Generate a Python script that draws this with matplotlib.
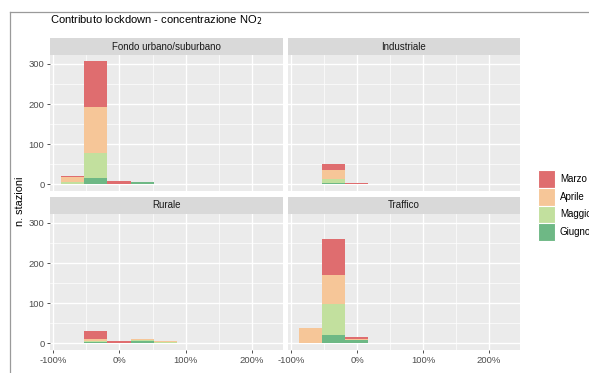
import numpy as np
import matplotlib
matplotlib.use("Agg")
import matplotlib.pyplot as plt
from matplotlib.patches import Rectangle
from matplotlib.lines import Line2D

plt.rcParams['font.family'] = ['Liberation Sans', 'DejaVu Sans']

# classi di variazione percentuale (estremo sinistro di ogni classe)
classi = [-88.5, -53.3, -18.1, 17.1, 52.3, 87.5]
larghezza = 35.2

mesi = ["Marzo", "Aprile", "Maggio", "Giugno"]
colori = ["#DF6D6F", "#F6C698", "#C2E09E", "#6EB885"]

# numero di stazioni per classe, per tipo di stazione e mese
fondo_marzo = [2, 113, 8, 0, 0, 0]
fondo_aprile = [11, 115, 1, 1, 0, 0]
fondo_maggio = [6, 62, 0, 1, 0, 0]
fondo_giugno = [1, 16, 0, 5, 0, 0]

ind_marzo = [0, 15, 4, 0, 0, 0]
ind_aprile = [1, 22, 0, 1, 0, 0]
ind_maggio = [0, 9, 0, 0, 0, 0]
ind_giugno = [0, 4, 0, 1, 0, 0]

rur_marzo = [0, 20, 4, 0, 0, 2]
rur_aprile = [2, 6, 2, 2, 2, 0]
rur_maggio = [0, 3, 0, 2, 3, 0]
rur_giugno = [0, 3, 0, 6, 1, 0]

traf_marzo = [1, 91, 5, 0, 0, 0]
traf_aprile = [36, 70, 3, 0, 0, 0]
traf_maggio = [2, 77, 0, 1, 0, 0]
traf_giugno = [0, 22, 8, 1, 0, 0]

pannelli = [
    ("Fondo urbano/suburbano", [fondo_marzo, fondo_aprile, fondo_maggio, fondo_giugno]),
    ("Industriale", [ind_marzo, ind_aprile, ind_maggio, ind_giugno]),
    ("Rurale", [rur_marzo, rur_aprile, rur_maggio, rur_giugno]),
    ("Traffico", [traf_marzo, traf_aprile, traf_maggio, traf_giugno]),
]

W, H = 589, 373
fig = plt.figure(figsize=(W / 100, H / 100), dpi=100)

def box(x0, y0, x1, y1):
    # rettangolo in pixel (origine in alto a sinistra) -> coordinate figura
    return [x0 / W, 1 - y1 / H, (x1 - x0) / W, (y1 - y0) / H]

colonne = [(50, 283), (288, 520)]
righe = [(38, 55, 191), (197, 214, 350)]

for k, (nome, serie) in enumerate(pannelli):
    r, c = divmod(k, 2)
    x0, x1 = colonne[c]
    ys, y0, y1 = righe[r]

    # striscia del titolo del pannello
    st = fig.add_axes(box(x0, ys, x1, y0))
    st.set_facecolor("#D9D9D9")
    st.set_xticks([]); st.set_yticks([])
    for s in st.spines.values():
        s.set_visible(False)
    st.text(0.5, 0.5, nome, ha="center", va="center", fontsize=7, color="#1A1A1A",
            transform=st.transAxes)

    ax = fig.add_axes(box(x0, y0, x1, y1))
    ax.set_facecolor("#EBEBEB")
    for s in ax.spines.values():
        s.set_visible(False)
    ax.set_xlim(-104.5, 246.7)
    ax.set_ylim(-16.5, 322)
    ax.set_xticks([-100, 0, 100, 200])
    ax.set_xticks([-50, 50, 150], minor=True)
    ax.set_yticks([0, 100, 200, 300])
    ax.set_yticks([50, 150, 250], minor=True)
    ax.grid(True, which="major", color="white", lw=1.0)
    ax.grid(True, which="minor", color="white", lw=0.5)
    ax.set_axisbelow(True)
    ax.tick_params(which="minor", length=0)
    ax.tick_params(which="major", length=2.5, width=0.6, color="#333333",
                   labelsize=6.8, labelcolor="#4D4D4D", pad=1.5)

    # barre impilate: Giugno in basso, Marzo in alto
    base = np.zeros(len(classi))
    for vals, col in zip(serie[::-1], colori[::-1]):
        ax.bar(classi, vals, width=larghezza, bottom=base, align="edge",
               color=col, linewidth=0)
        base += np.array(vals)

    if r == 1:
        ax.set_xticklabels(["-100%", "0%", "100%", "200%"])
    else:
        ax.tick_params(axis="x", which="major", length=0, labelbottom=False)
    if c == 0:
        ax.set_yticklabels(["0", "100", "200", "300"])
    else:
        ax.tick_params(axis="y", which="major", length=0, labelleft=False)

fig.text(50 / W, 1 - 20 / H, "Contributo lockdown - concentrazione NO$_2$",
         fontsize=8, color="#000000", ha="left", va="center")
fig.text(20 / W, 1 - 201 / H, "n. stazioni", rotation=90, fontsize=7.8,
         ha="center", va="center")

# legenda dei mesi
kx, ky, kw, kh = 537.5, 170, 17, 17.75
for i, (m, col) in enumerate(zip(mesi, colori)):
    top = ky + i * kh
    fig.add_artist(Rectangle((kx / W, 1 - (top + kh) / H), kw / W, kh / H,
                             facecolor=col, edgecolor="white", linewidth=0.8,
                             transform=fig.transFigure))
    fig.text(560 / W, 1 - (top + kh / 2) / H, m, fontsize=7, ha="left", va="center")

# cornice della finestra
fig.add_artist(Line2D([10 / W, 10 / W], [0, 1 - 12 / H], color="#9A9A9A", lw=0.9))
fig.add_artist(Line2D([10 / W, 1], [1 - 12 / H, 1 - 12 / H], color="#9A9A9A", lw=0.9))

fig.savefig("out.png", dpi=100)
